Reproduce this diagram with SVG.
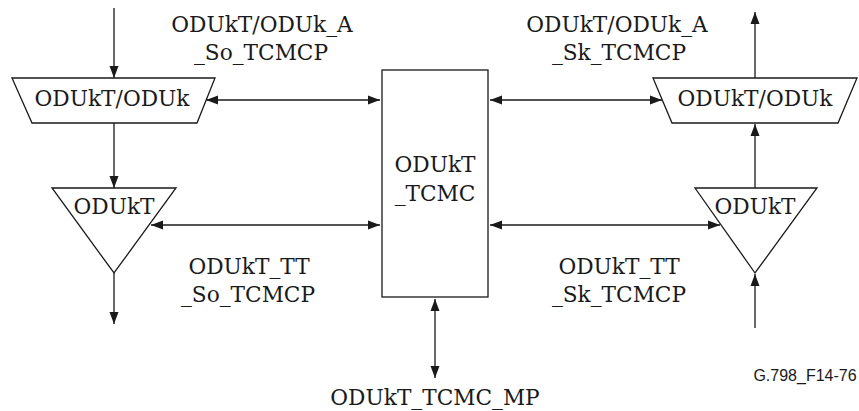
<svg xmlns="http://www.w3.org/2000/svg" width="859" height="411" viewBox="0 0 859 411">
<style>
.s{fill:#fff;stroke:#1a1a1a;stroke-width:1.3}
.c{fill:none;stroke:#1a1a1a;stroke-width:1.3}
.t{font-family:'DejaVu Serif','Liberation Serif',serif;font-size:21.7px;fill:#1a1a1a;text-anchor:middle}
.g{font-family:'Liberation Sans',Arial,sans-serif;font-size:16px;fill:#1a1a1a;text-anchor:middle}
</style>
<defs>
<marker id="a" markerUnits="userSpaceOnUse" markerWidth="12" markerHeight="10" refX="12" refY="5" orient="auto-start-reverse" viewBox="0 0 12 10">
<path d="M0,0.5 L12,5 L0,9.5 z" fill="#1a1a1a"/>
</marker>
</defs>
<g id="connectors">
<line class="c" x1="114" y1="8" x2="114" y2="78" marker-end="url(#a)"/>
<line class="c" x1="114" y1="123" x2="114" y2="188" marker-end="url(#a)"/>
<line class="c" x1="114" y1="273" x2="114" y2="324" marker-end="url(#a)"/>
<line class="c" x1="206" y1="100" x2="380" y2="100" marker-start="url(#a)" marker-end="url(#a)"/>
<line class="c" x1="151" y1="225" x2="380" y2="225" marker-start="url(#a)" marker-end="url(#a)"/>
<line class="c" x1="490" y1="100" x2="662" y2="100" marker-start="url(#a)" marker-end="url(#a)"/>
<line class="c" x1="490" y1="225" x2="720" y2="225" marker-start="url(#a)" marker-end="url(#a)"/>
<line class="c" x1="755" y1="78" x2="755" y2="12" marker-end="url(#a)"/>
<line class="c" x1="755" y1="188" x2="755" y2="124" marker-end="url(#a)"/>
<line class="c" x1="755" y1="328" x2="755" y2="274" marker-end="url(#a)"/>
<line class="c" x1="435" y1="299" x2="435" y2="378" marker-start="url(#a)" marker-end="url(#a)"/>
</g>
<g id="left-adapt">
<polygon class="s" points="12,78 215,78 197,123 32,123"/>
<text class="t" x="112" y="106">ODUkT/ODUk</text>
</g>
<g id="left-tt">
<polygon class="s" points="52,188 176,188 114,273"/>
<text class="t" x="114" y="214">ODUkT</text>
</g>
<g id="tcmc">
<rect class="s" x="382" y="70" width="106" height="227"/>
<text class="t" x="435" y="172">ODUkT</text>
<text class="t" x="435" y="201">_TCMC</text>
</g>
<g id="right-adapt">
<polygon class="s" points="653,78 857,78 838,123 672,123"/>
<text class="t" x="755" y="106">ODUkT/ODUk</text>
</g>
<g id="right-tt">
<polygon class="s" points="695,188 817,188 755,273"/>
<text class="t" x="755" y="214">ODUkT</text>
</g>
<g id="labels">
<text class="t" x="262" y="32">ODUkT/ODUk_A</text>
<text class="t" x="261" y="60">_So_TCMCP</text>
<text class="t" x="617" y="32">ODUkT/ODUk_A</text>
<text class="t" x="619" y="60">_Sk_TCMCP</text>
<text class="t" x="249" y="274">ODUkT_TT</text>
<text class="t" x="248" y="302">_So_TCMCP</text>
<text class="t" x="619" y="274">ODUkT_TT</text>
<text class="t" x="619" y="302">_Sk_TCMCP</text>
<text class="t" x="435" y="405">ODUkT_TCMC_MP</text>
<text class="g" x="805" y="381">G.798_F14-76</text>
</g>
</svg>
